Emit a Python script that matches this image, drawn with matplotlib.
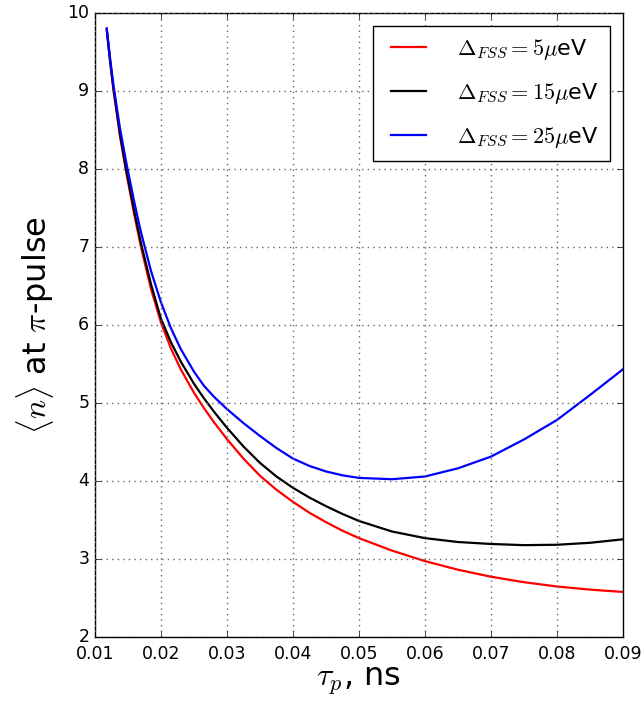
import numpy as np
import matplotlib
matplotlib.use('Agg')
import matplotlib.pyplot as plt

plt.style.use('classic')

# pulse duration, ns
tau = [0.0118, 0.0123, 0.0128, 0.0138, 0.0148, 0.016, 0.017, 0.0185, 0.020,
       0.0215, 0.023, 0.025, 0.0265, 0.028, 0.03, 0.0325, 0.035, 0.0375,
       0.04, 0.0425, 0.045, 0.0475, 0.05, 0.055, 0.06, 0.065, 0.07, 0.075,
       0.08, 0.085, 0.09]

n_5 = [9.78, 9.38, 9.02, 8.42, 7.93, 7.40, 6.99, 6.46, 6.03,
       5.70, 5.43, 5.13, 4.935, 4.755, 4.535, 4.285, 4.065, 3.885,
       3.73, 3.59, 3.47, 3.36, 3.265, 3.105, 2.97, 2.86, 2.77, 2.70,
       2.645, 2.605, 2.575]
n_15 = [9.78, 9.39, 9.04, 8.45, 7.96, 7.44, 7.04, 6.52, 6.08,
        5.78, 5.53, 5.245, 5.06, 4.89, 4.68, 4.44, 4.23, 4.055,
        3.91, 3.785, 3.675, 3.575, 3.485, 3.35, 3.265, 3.215, 3.19, 3.175,
        3.18, 3.205, 3.25]
n_25 = [9.80, 9.42, 9.08, 8.52, 8.06, 7.56, 7.18, 6.69, 6.29,
        5.96, 5.69, 5.40, 5.22, 5.08, 4.92, 4.74, 4.575, 4.42,
        4.285, 4.19, 4.12, 4.07, 4.037, 4.02, 4.055, 4.16, 4.31, 4.53,
        4.78, 5.10, 5.43]

labels = [r'$\Delta_{FSS}=5\mu$eV', r'$\Delta_{FSS}=15\mu$eV', r'$\Delta_{FSS}=25\mu$eV']
colors = ['r', 'k', 'b']

fig = plt.figure(figsize=(6.41, 7.06), dpi=100, facecolor='white')
ax = fig.add_axes([0.148, 0.098, 0.824, 0.884])

for n, lab, c in zip([n_5, n_15, n_25], labels, colors):
    ax.plot(tau, n, color=c, lw=1.6, label=lab)

ax.set_xlim(0.01, 0.09)
ax.set_ylim(2, 10)
xt = np.arange(0.01, 0.0901, 0.01)
ax.set_xticks(xt)
ax.set_xticklabels(['%.2f' % v for v in xt])
ax.tick_params(labelsize=12.5)
ax.tick_params(axis='x', pad=6)
ax.grid(True, color='0.4', linestyle=':', lw=1)

ax.set_xlabel(r'$\tau_p$, ns', fontsize=23, labelpad=2)
ax.set_ylabel(r'$\langle n\rangle$ at $\pi$-pulse', fontsize=23, labelpad=8)

leg = ax.legend(loc='upper right', fontsize=16, handlelength=2.2,
                handletextpad=1.1, labelspacing=0.85, borderpad=0.5,
                borderaxespad=0.6)
leg.get_frame().set_linewidth(1.0)

fig.savefig('out.png', dpi=100, facecolor='white')
